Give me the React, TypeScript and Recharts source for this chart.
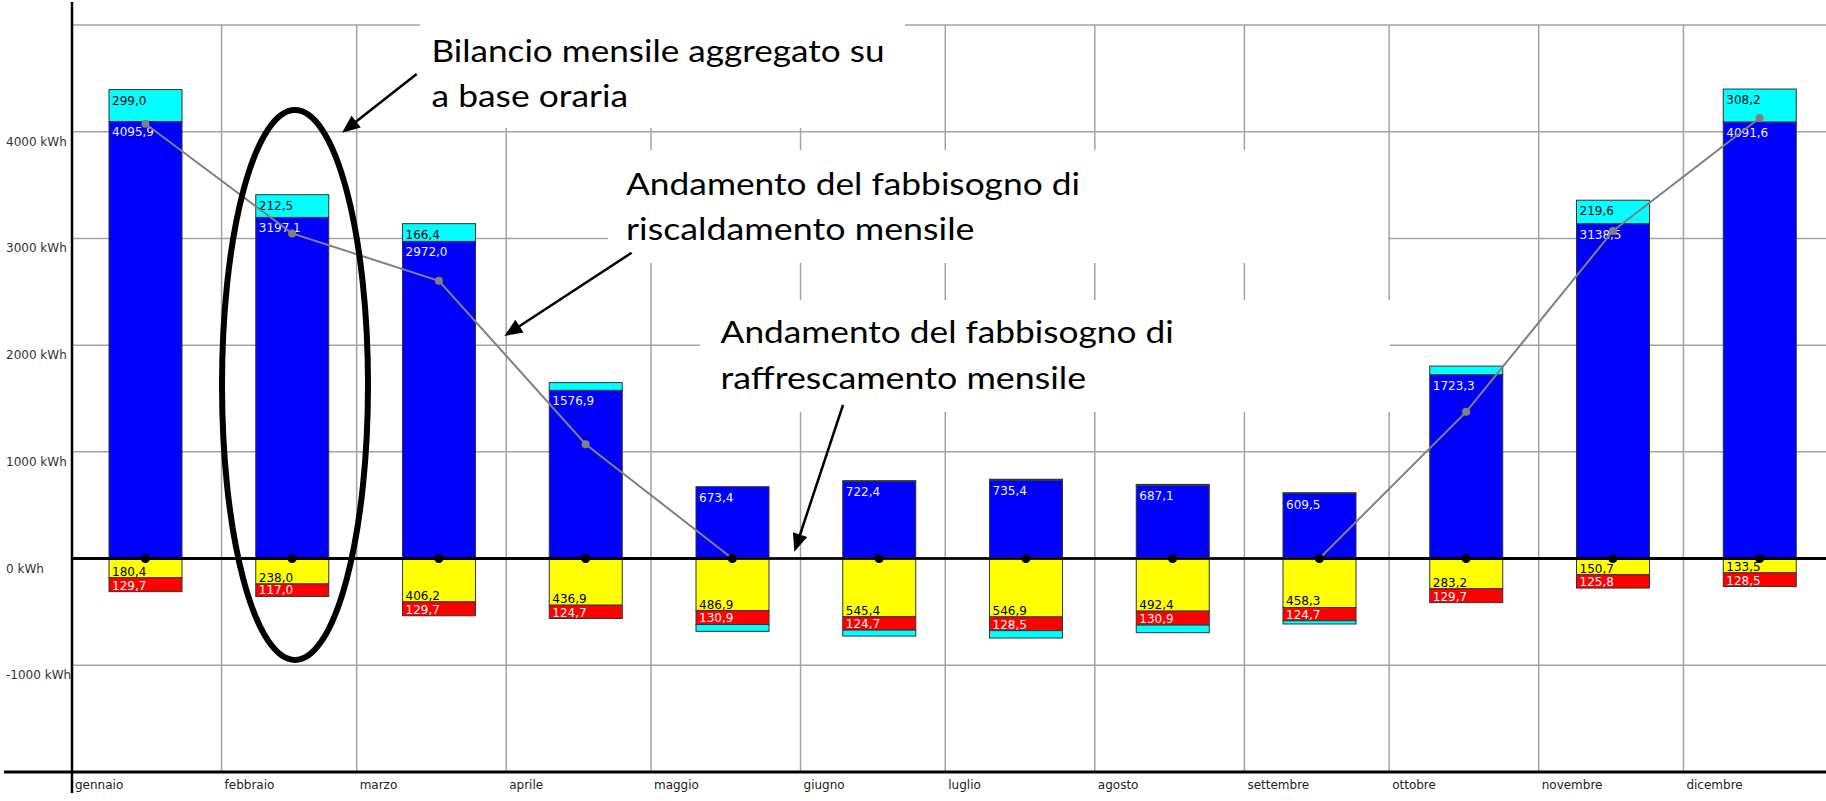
import React from 'react';
import { ComposedChart, Bar, Line, XAxis, YAxis, CartesianGrid, ReferenceLine } from 'recharts';

// ---------- data ----------
const months = ['gennaio', 'febbraio', 'marzo', 'aprile', 'maggio', 'giugno', 'luglio', 'agosto', 'settembre', 'ottobre', 'novembre', 'dicembre'];
const daysInMonth = [31, 28, 31, 30, 31, 30, 31, 31, 30, 31, 30, 31];
// blue: heating side of the hourly-aggregated balance
const heatingBalance = [4095.9, 3197.1, 2972.0, 1576.9, 673.4, 722.4, 735.4, 687.1, 609.5, 1723.3, 3138.5, 4091.6];
// cyan on top
const heatingSurplus = [299.0, 212.5, 166.4, 72, 0, 8, 8, 8, 8, 80, 219.6, 308.2];
// yellow (downwards)
const coolingBalance = [180.4, 238.0, 406.2, 436.9, 486.9, 545.4, 546.9, 492.4, 458.3, 283.2, 150.7, 133.5];
// red (downwards)
const coolingExtra = [129.7, 117.0, 129.7, 124.7, 130.9, 124.7, 128.5, 130.9, 124.7, 129.7, 125.8, 128.5];
// cyan at bottom (downwards)
const coolingSurplus = [0, 0, 0, 0, 64, 56, 69, 71, 30, 0, 0, 0];
// lines
const heatingDemand = [4075, 3047, 2603, 1072, 0, 0, 0, 0, 0, 1375, 3069, 4128];
const coolingDemand = [0, 0, 0, 0, 0, 0, 0, 0, 0, 0, 0, 0];
const yTicks = [-1000, 0, 1000, 2000, 3000, 4000];
const yDomain = [-2000, 5000];
const yearDays = 365;

const monthStarts: number[] = [];
daysInMonth.forEach((d, i) => {
  monthStarts.push(i === 0 ? 0 : monthStarts[i - 1] + daysInMonth[i - 1]);
});

// each monthly bar sits at the centre of one twelfth of the year
const data = months.map((m, i) => ({
  month: m,
  day: (i + 0.5) * (yearDays / months.length),
  blue: heatingBalance[i],
  cyanTop: heatingSurplus[i],
  yellow: -coolingBalance[i],
  red: -coolingExtra[i],
  cyanBottom: -coolingSurplus[i],
  heat: heatingDemand[i],
  cool: coolingDemand[i],
}));

const LABEL_FONT = "'DejaVu Sans', Verdana, sans-serif";
const NOTE_FONT = "Lato, 'Open Sans', sans-serif";

const fmt = (v: number) => Math.abs(v).toFixed(1).replace('.', ',');

const makeShape = (key: string, fill: string, textColor: string) => (props: any) => {
  const { x, y, width, height, payload } = props;
  if (x == null || y == null || !isFinite(y) || !isFinite(height)) return <g />;
  const top = height < 0 ? y + height : y;
  const h = Math.abs(height);
  const v = payload ? payload[key] : 0;
  if (h < 0.01) return <g />;
  const positive = v >= 0;
  return (
    <g>
      <rect x={x} y={top} width={width} height={h} fill={fill} stroke="#333" strokeWidth={1} />
      {h >= 10 && (
        <text
          x={x + 3}
          y={positive ? top + 15 : top + h - 2}
          fill={textColor}
          fontSize={12}
          fontFamily={LABEL_FONT}
        >
          {fmt(v)}
        </text>
      )}
    </g>
  );
};

const MonthTick = (props: any) => {
  const { x, y, payload } = props;
  const idx = monthStarts.indexOf(payload.value);
  return (
    <text x={x + 3} y={y + 17} fontSize={12} fontFamily={LABEL_FONT} fill="#222">
      {idx >= 0 ? months[idx] : ''}
    </text>
  );
};

const KwhTick = (props: any) => {
  const { y, payload } = props;
  return (
    <text x={6} y={y + 14} fontSize={12} fontFamily={LABEL_FONT} fill="#333">
      {`${payload.value} kWh`}
    </text>
  );
};

const Arrow = ({ x1, y1, x2, y2 }: { x1: number; y1: number; x2: number; y2: number }) => {
  const dx = x2 - x1;
  const dy = y2 - y1;
  const len = Math.hypot(dx, dy);
  const ux = dx / len;
  const uy = dy / len;
  const hl = 18;
  const hw = 7.5;
  const bx = x2 - ux * hl;
  const by = y2 - uy * hl;
  const pts = `${x2},${y2} ${bx - uy * hw},${by + ux * hw} ${bx + uy * hw},${by - ux * hw}`;
  return (
    <g>
      <line x1={x1} y1={y1} x2={bx + ux * 2} y2={by + uy * 2} stroke="#000" strokeWidth={2.5} />
      <polygon points={pts} fill="#000" />
    </g>
  );
};

const Note = ({ x, y, w, children }: { x: number; y: number; w: number; children: string }) => (
  <text x={x} y={y} fontFamily={NOTE_FONT} fontSize={31} fill="#000" textLength={w} lengthAdjust="spacingAndGlyphs">
    {children}
  </text>
);

export default function App() {
  return (
    <div style={{ position: 'absolute', left: 0, top: 0, width: 1826, height: 801, overflow: 'hidden', background: '#fff' }}>
      <ComposedChart
        width={1833}
        height={801}
        data={data}
        stackOffset="sign"
        margin={{ top: 25, right: 0, bottom: 0, left: 0 }}
      >
        <CartesianGrid stroke="#a3a3a3" strokeWidth={1.5} />
        <XAxis
          type="number"
          dataKey="day"
          domain={[0, yearDays]}
          ticks={monthStarts}
          interval={0}
          height={29}
          axisLine={false}
          tickLine={false}
          tickSize={0}
          tickMargin={0}
          tick={<MonthTick />}
        />
        <YAxis
          type="number"
          domain={yDomain}
          ticks={yTicks}
          interval={0}
          width={72}
          axisLine={false}
          tickLine={false}
          tick={<KwhTick />}
        />
        <Bar dataKey="blue" stackId="a" barSize={73} fill="#0000ff" shape={makeShape('blue', '#0000ff', '#f4f4ff')} isAnimationActive={false} />
        <Bar dataKey="cyanTop" stackId="a" barSize={73} fill="#00ffff" shape={makeShape('cyanTop', '#00ffff', '#000')} isAnimationActive={false} />
        <Bar dataKey="yellow" stackId="a" barSize={73} fill="#ffff00" shape={makeShape('yellow', '#ffff00', '#000')} isAnimationActive={false} />
        <Bar dataKey="red" stackId="a" barSize={73} fill="#ff0000" shape={makeShape('red', '#ff0000', '#fff')} isAnimationActive={false} />
        <Bar dataKey="cyanBottom" stackId="a" barSize={73} fill="#00ffff" shape={makeShape('cyanBottom', '#00ffff', '#000')} isAnimationActive={false} />
        <ReferenceLine y={0} stroke="#000" strokeWidth={3} />
        <Line
          type="linear"
          dataKey="heat"
          stroke="#808080"
          strokeWidth={2}
          dot={{ r: 4, fill: '#808080', stroke: '#808080', strokeWidth: 0 }}
          activeDot={false}
          isAnimationActive={false}
        />
        <Line
          type="linear"
          dataKey="cool"
          stroke="#000"
          strokeWidth={2}
          dot={{ r: 4.5, fill: '#000', stroke: '#000', strokeWidth: 0 }}
          activeDot={false}
          isAnimationActive={false}
        />
      </ComposedChart>
      <svg width={1826} height={801} style={{ position: 'absolute', left: 0, top: 0, pointerEvents: 'none' }}>
        {/* text boxes */}
        <rect x={420} y={20} width={485} height={108} fill="#fff" />
        <rect x={608} y={150} width={780} height={113} fill="#fff" />
        <rect x={700} y={300} width={690} height={112} fill="#fff" />
        <Note x={431.5} y={61.7} w={453}>Bilancio mensile aggregato su</Note>
        <Note x={431.5} y={107.3} w={196.5}>a base oraria</Note>
        <Note x={626} y={195} w={454}>Andamento del fabbisogno di</Note>
        <Note x={626} y={240} w={348.5}>riscaldamento mensile</Note>
        <Note x={720.6} y={343.3} w={453}>Andamento del fabbisogno di</Note>
        <Note x={720.6} y={389.3} w={365.5}>raffrescamento mensile</Note>
        {/* axes */}
        <line x1={72} y1={2} x2={72} y2={793} stroke="#000" strokeWidth={2.5} />
        <line x1={4} y1={772} x2={1826} y2={772} stroke="#000" strokeWidth={3} />
        {/* ellipse highlight */}
        <ellipse cx={295} cy={385} rx={73} ry={275} fill="none" stroke="#000" strokeWidth={6} />
        {/* arrows */}
        <Arrow x1={416.7} y1={74} x2={342} y2={132.7} />
        <Arrow x1={631.7} y1={252.7} x2={504.4} y2={336} />
        <Arrow x1={843} y1={405} x2={794.4} y2={551.7} />
      </svg>
    </div>
  );
}
